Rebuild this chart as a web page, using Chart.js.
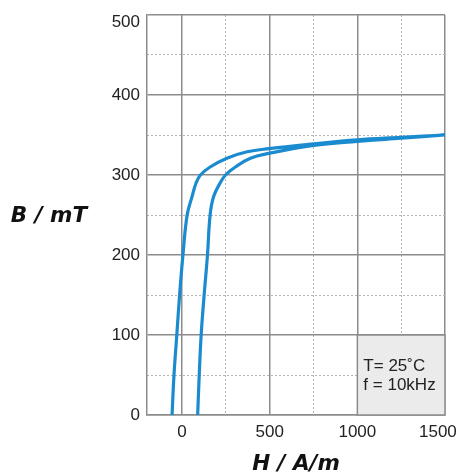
<!DOCTYPE html>
<html>
<head>
<meta charset="utf-8">
<script src="https://cdn.jsdelivr.net/npm/chart.js@4/dist/chart.umd.min.js"></script>
<style>
  html, body { margin: 0; padding: 0; background: #fff; }
  #wrap { width: 460px; height: 473px; }
</style>
</head>
<body>
<div id="wrap"><canvas id="c"></canvas></div>
<script>
// upper branch (coming down from saturation, left curve), listed from B = 0 upward
let upperH = [-57, -46, -30, -14, 5, 29, 57, 80, 105, 160, 256, 371, 495, 750, 1000, 1250, 1500];
let upperB = [0, 50, 100, 150, 200, 250, 273, 290, 300, 310, 321, 329, 333, 339, 344, 347, 350];
// lower branch (right curve), listed from saturation down to B = 0
let lowerH = [1500, 1250, 1000, 750, 495, 390, 304, 248, 217, 180, 160, 145, 126, 109, 98, 89];
let lowerB = [350, 346, 342, 337, 327, 321, 310, 300, 290, 273, 250, 200, 150, 100, 50, 0];

let xTicks = [0, 500, 1000, 1500];
let xMinorTicks = [250, 750, 1250];
let yTicks = [0, 100, 200, 300, 400, 500];
let yMinorTicks = [50, 150, 250, 350, 450];

let noteLines = ['T= 25˚C', 'f = 10kHz'];
let noteBox = [1000, 1500, 0, 100];

const blue = '#1b8bd0';
const majorGrid = '#8c8c8c';
const minorGrid = '#b4b4b4';
const sans = '"Liberation Sans", Arial, sans-serif';
const wide = '"DejaVu Sans", sans-serif';

let loop = [];
upperH.forEach((h, i) => loop.push({ x: h, y: upperB[i] }));
lowerH.forEach((h, i) => loop.push({ x: h, y: lowerB[i] }));

function setTicks(list) {
    return s => { s.ticks = list.map(v => ({ value: v })); };
}

const sideTitle = {
    id: 'sideTitle',
    afterDraw(chart) {
        const c = chart.ctx;
        const area = chart.chartArea;
        c.save();
        c.font = 'italic bold 21.5px ' + wide;
        c.fillStyle = '#111';
        c.textAlign = 'center';
        c.textBaseline = 'middle';
        c.fillText('B / mT', 49, (area.top + area.bottom) / 2 + 1);
        c.restore();
    }
};

const noteBoxPlugin = {
    id: 'noteBox',
    beforeDatasetsDraw(chart) {
        const c = chart.ctx;
        const x = chart.scales.x, y = chart.scales.y;
        const l = x.getPixelForValue(noteBox[0]), r = x.getPixelForValue(noteBox[1]);
        const b = y.getPixelForValue(noteBox[2]), t = y.getPixelForValue(noteBox[3]);
        c.save();
        c.fillStyle = '#ebebeb';
        c.fillRect(l, t, r - l, b - t);
        c.strokeStyle = majorGrid;
        c.lineWidth = 1.5;
        c.strokeRect(l, t, r - l, b - t);
        c.font = '17px ' + sans;
        c.fillStyle = '#222';
        c.textAlign = 'left';
        c.textBaseline = 'middle';
        noteLines.forEach((txt, i) => c.fillText(txt, l + 6, t + 31 + i * 19));
        c.restore();
    }
};

const config = {
    type: 'scatter',
    data: {
        datasets: [{
            data: loop,
            showLine: true,
            borderColor: blue,
            borderWidth: 3.2,
            pointRadius: 0,
            tension: 0.4,
            fill: false
        }]
    },
    options: {
        responsive: true,
        maintainAspectRatio: false,
        animation: false,
        layout: { padding: { left: 90, right: 15, top: 15, bottom: 0 } },
        plugins: {
            legend: { display: false },
            tooltip: { enabled: false }
        },
        scales: {
            x: {
                type: 'linear',
                min: -200,
                max: 1500,
                afterBuildTicks: setTicks(xTicks),
                afterFit: s => { s.height = 58; s.paddingRight = 0; },
                grid: { color: majorGrid, lineWidth: 1.5, drawTicks: false },
                border: { color: majorGrid, width: 1.5 },
                ticks: {
                    color: '#222',
                    padding: 7,
                    // last label sits inside the canvas, as in the original
                    callback: v => v === 1500 ? v + '   ' : String(v),
                    font: { family: sans, size: 17 }
                },
                title: {
                    display: true,
                    text: 'H / A/m',
                    color: '#111',
                    padding: { top: 0, bottom: -4 },
                    font: { family: wide, size: 21.5, weight: 'bold', style: 'italic' }
                }
            },
            xMinor: {
                type: 'linear',
                position: 'bottom',
                min: -200,
                max: 1500,
                afterBuildTicks: setTicks(xMinorTicks),
                afterFit: s => { s.height = 0; },
                grid: { color: minorGrid, lineWidth: 1, drawTicks: false },
                border: { display: false, dash: [2, 2] },
                ticks: { display: false }
            },
            y: {
                type: 'linear',
                min: 0,
                max: 500,
                afterBuildTicks: setTicks(yTicks),
                afterFit: s => { s.width = 57; s.paddingTop = 0; },
                grid: { color: majorGrid, lineWidth: 1.5, drawTicks: false },
                border: { color: majorGrid, width: 1.5 },
                ticks: {
                    color: '#222',
                    padding: 7,
                    // top label is pushed down below the frame, as in the original
                    callback: v => v === 500 ? ['', '500'] : String(v),
                    font: { family: sans, size: 17, lineHeight: '15px' }
                }
            },
            yMinor: {
                type: 'linear',
                position: 'left',
                min: 0,
                max: 500,
                afterBuildTicks: setTicks(yMinorTicks),
                afterFit: s => { s.width = 0; },
                grid: { color: minorGrid, lineWidth: 1, drawTicks: false },
                border: { display: false, dash: [2, 2] },
                ticks: { display: false }
            }
        }
    },
    plugins: [noteBoxPlugin, sideTitle]
};

new Chart(document.getElementById('c'), config);
</script>
</body>
</html>
